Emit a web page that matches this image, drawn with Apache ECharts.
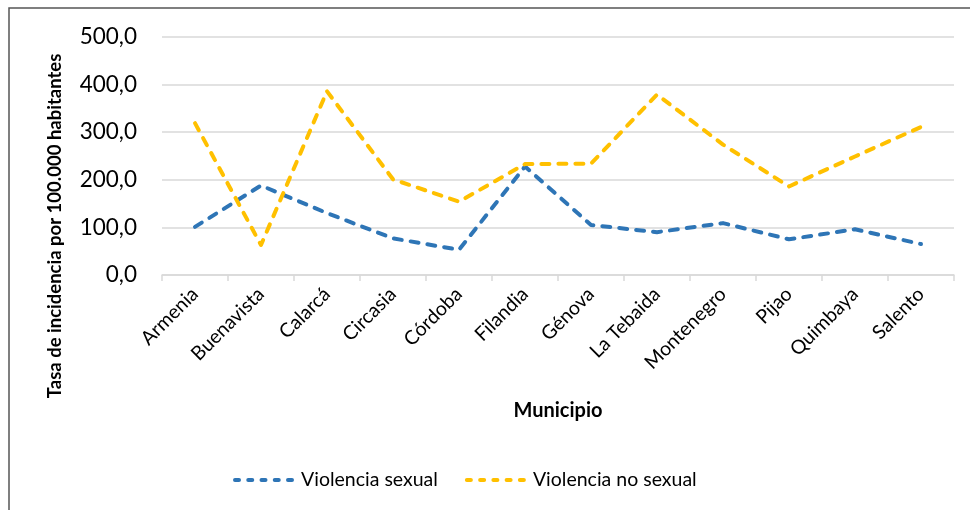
<!DOCTYPE html>
<html>
<head>
<meta charset="utf-8">
<script src="https://cdn.jsdelivr.net/npm/echarts@6/dist/echarts.min.js"></script>
<style>
html,body{margin:0;padding:0;background:#fff;}
#chart{width:970px;height:510px;}
</style>
</head>
<body>
<div id="chart"></div>
<script>
var categories = ['Armenia','Buenavista','Calarcá','Circasia','Córdoba','Filandia','Génova','La Tebaida','Montenegro','Pijao','Quimbaya','Salento'];
var violenciaSexual = [101, 188, 130, 77, 53, 228, 105, 90, 109, 75, 96, 65];
var violenciaNoSexual = [319, 63, 386, 201, 154, 233, 234, 379, 274, 186, 249, 311];
var yTicks = [0, 100, 200, 300, 400, 500];

var FONT = 'Lato, "Open Sans", sans-serif';

// dashed legend icon: 5 rounded dashes
var dashIcon = (function(){
  var d = '', gap = 5.25, len = 8;
  for (var i = 0; i < 5; i++) {
    var x0 = i * (len + gap);
    d += 'M' + (x0 + 2) + ',0h' + (len - 4) + 'a2,2 0 0 1 0,4h-' + (len - 4) + 'a2,2 0 0 1 0,-4z';
  }
  return 'path://' + d;
})();

var chart = echarts.init(document.getElementById('chart'), null, {renderer:'canvas'});
chart.setOption({
  animation: false,
  backgroundColor: '#fff',
  graphic: [
    {type:'rect', shape:{x:9, y:8, width:1000, height:1000}, style:{fill:'none', stroke:'#555', lineWidth:1.5}, z:-1},
    {type:'text', x:55, y:226, rotation:Math.PI/2,
     style:{text:'Tasa de incidencia por 100.000 habitantes', font:'bold 18.5px ' + FONT, fill:'#000', align:'center', verticalAlign:'middle'}}
  ],
  grid: {left:162, right:16, top:37, bottom:235, containLabel:false},
  legend: {
    top: 465, left: 228,
    itemWidth: 61, itemHeight: 4, itemGap: 27,
    icon: dashIcon,
    textStyle: {fontFamily: FONT, fontSize: 19.5, color: '#000', padding: [0, 0, 0, 2]},
    data: ['Violencia sexual','Violencia no sexual']
  },
  xAxis: {
    type: 'category',
    data: categories,
    boundaryGap: true,
    name: 'Municipio',
    nameLocation: 'middle',
    nameGap: 126,
    nameTextStyle: {fontFamily: FONT, fontWeight: 'bold', fontSize: 20, color: '#000'},
    axisLine: {lineStyle: {color: '#D9D9D9', width: 1.5}},
    axisTick: {show: true, length: 6, lineStyle: {color: '#D9D9D9', width: 1.5}},
    axisLabel: {rotate: 45, fontFamily: FONT, fontSize: 19.5, color: '#000', margin: 16, interval: 0}
  },
  yAxis: {
    type: 'value',
    min: 0, max: 500, interval: 100,
    axisLine: {show: false},
    axisTick: {show: false},
    splitLine: {lineStyle: {color: '#D9D9D9', width: 1.5}},
    axisLabel: {fontFamily: FONT, fontSize: 22.5, color: '#000', margin: 25,
      formatter: function(v){ return (yTicks.indexOf(v) >= 0 ? v.toFixed(1).replace('.', ',') : ''); }}
  },
  series: [
    {name:'Violencia sexual', type:'line', data: violenciaSexual, symbol:'none', color:'#2E75B6',
     itemStyle:{color:'#2E75B6'},
     lineStyle:{color:'#2E75B6', width:4, type:[8,9], cap:'round', join:'round'}},
    {name:'Violencia no sexual', type:'line', data: violenciaNoSexual, symbol:'none', color:'#FFC000',
     itemStyle:{color:'#FFC000'},
     lineStyle:{color:'#FFC000', width:4, type:[8,9], cap:'round', join:'round'}}
  ]
});
</script>
</body>
</html>
